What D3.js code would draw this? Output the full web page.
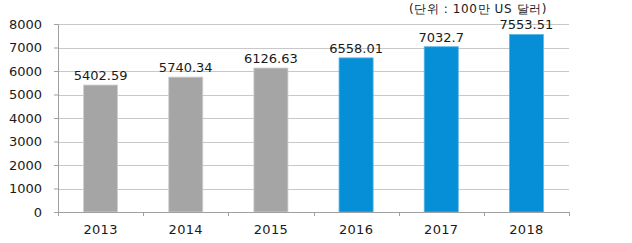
<!DOCTYPE html>
<html>
<head>
<meta charset="utf-8">
<script src="https://cdn.jsdelivr.net/npm/d3@7"></script>
<style>
  body { margin: 0; background: #fff; }
  text { font-family: "DejaVu Sans", sans-serif; fill: #1a1a1a; }
</style>
</head>
<body>
<svg id="chart" width="632" height="243"></svg>
<script>
const years = ["2013", "2014", "2015", "2016", "2017", "2018"];
const values = [5402.59, 5740.34, 6126.63, 6558.01, 7032.7, 7553.51];
const valueLabels = ["5402.59", "5740.34", "6126.63", "6558.01", "7032.7", "7553.51"];
const yTicks = [0, 1000, 2000, 3000, 4000, 5000, 6000, 7000, 8000];
const unitLabel = "(단위 : 100만 US 달러)";

const margin = { left: 58, right: 63, top: 24, bottom: 31 };
const width = 632, height = 243;

const svg = d3.select("#chart");

const x = d3.scaleBand()
  .domain(years)
  .range([margin.left, width - margin.right])
  .paddingInner(0.6)
  .paddingOuter(0.3);

const y = d3.scaleLinear()
  .domain([0, 8000])
  .range([height - margin.bottom, margin.top]);

// gridlines
svg.append("g")
  .selectAll("line")
  .data(yTicks.slice(1))
  .join("line")
  .attr("x1", margin.left)
  .attr("x2", width - margin.right)
  .attr("y1", d => Math.round(y(d)) + 0.5)
  .attr("y2", d => Math.round(y(d)) + 0.5)
  .attr("stroke", "#c8c8c8")
  .attr("stroke-width", 1);

// bars
svg.append("g")
  .selectAll("rect")
  .data(values)
  .join("rect")
  .attr("x", (d, i) => x(years[i]))
  .attr("y", d => y(d))
  .attr("width", x.bandwidth())
  .attr("height", d => y(0) - y(d))
  .attr("fill", (d, i) => i < 3 ? "#a5a5a5" : "#068fd6")
  .attr("stroke", (d, i) => i < 3 ? "#d0d0d0" : "#5ab6e6")
  .attr("stroke-width", 0.8);

// value labels
svg.append("g")
  .selectAll("text")
  .data(values)
  .join("text")
  .attr("x", (d, i) => x(years[i]) + x.bandwidth() / 2)
  .attr("y", d => y(d) - 5)
  .attr("text-anchor", "middle")
  .attr("font-size", 13)
  .text((d, i) => valueLabels[i]);

// y axis
const yAxis = svg.append("g")
  .attr("transform", `translate(${margin.left},0)`)
  .call(d3.axisLeft(y).tickValues(yTicks).tickSize(4).tickPadding(12).tickFormat(d3.format("d")));
yAxis.select(".domain").attr("stroke", "#a0a0a0");
yAxis.selectAll(".tick line").attr("stroke", "#a0a0a0");
yAxis.selectAll(".tick text").attr("font-size", 13).attr("font-family", "DejaVu Sans").attr("fill", "#1a1a1a");

// x axis
const xAxis = svg.append("g");
xAxis.append("line")
  .attr("x1", margin.left - 4)
  .attr("x2", width - margin.right)
  .attr("y1", Math.round(y(0)) + 0.5)
  .attr("y2", Math.round(y(0)) + 0.5)
  .attr("stroke", "#a0a0a0");
xAxis.selectAll(".xt")
  .data(d3.range(years.length + 1))
  .join("line")
  .attr("class", "xt")
  .attr("x1", i => Math.round(margin.left + i * x.step()) + 0.5)
  .attr("x2", i => Math.round(margin.left + i * x.step()) + 0.5)
  .attr("y1", y(0))
  .attr("y2", y(0) + 4)
  .attr("stroke", "#a0a0a0");
xAxis.selectAll("text")
  .data(years)
  .join("text")
  .attr("x", d => x(d) + x.bandwidth() / 2)
  .attr("y", y(0) + 22)
  .attr("text-anchor", "middle")
  .attr("font-size", 13)
  .attr("letter-spacing", 0.3)
  .text(d => d);

// unit
svg.append("text")
  .attr("x", 478)
  .attr("y", 13)
  .attr("text-anchor", "middle")
  .attr("font-size", 12)
  .attr("letter-spacing", 0.6)
  .attr("font-family", "Noto Sans CJK KR, sans-serif")
  .text(unitLabel);
</script>
</body>
</html>
